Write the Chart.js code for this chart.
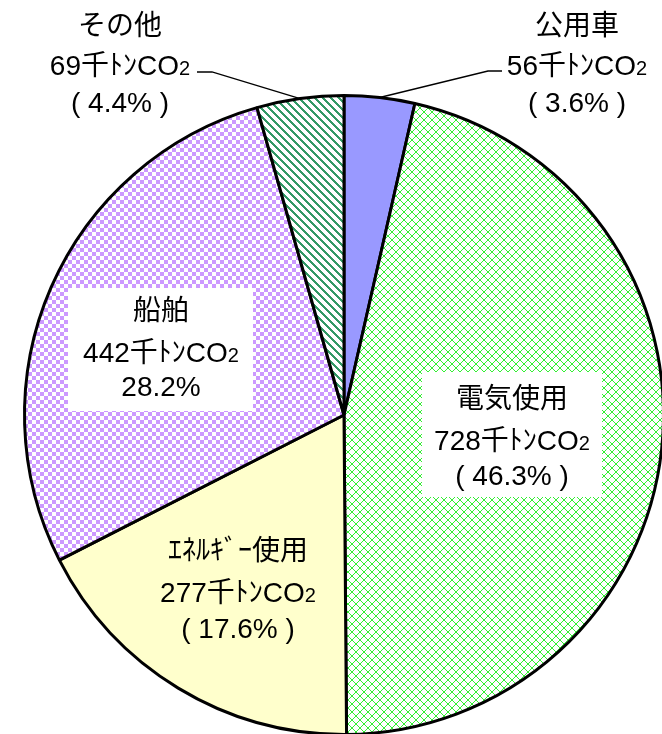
<!DOCTYPE html>
<html><head><meta charset="utf-8">
<script src="https://cdn.jsdelivr.net/npm/chart.js@4/dist/chart.umd.min.js"></script>
<style>
html,body{margin:0;padding:0;background:#fff;overflow:hidden;width:662px;height:734px;}
#wrap{position:absolute;left:0;top:0;width:700px;height:800px;}
</style></head><body>
<div id="wrap"><canvas id="c" width="700" height="800"></canvas></div>
<script>
// ---- data ----
const categories = ['公用車', '電気使用', 'ｴﾈﾙｷﾞｰ使用', '船舶', 'その他'];
const emissions = [56, 728, 277, 442, 69];          // 千トンCO2
const percentLabels = ['3.6%', '46.3%', '17.6%', '28.2%', '4.4%'];
const unitText = '千ﾄﾝCO';
const unitSub = '2';

// ---- label layout (text placement only) ----
const FONT = '"Liberation Sans", "Noto Sans CJK JP", sans-serif';
const FS = 28;
const labelLayout = [
  { cx: 577, base: [35, 75, 112], paren: true, leader: { elbow: 488, end: 502, y: 71 } },
  { cx: 512, base: [408, 450, 485], paren: true, box: [422, 372, 180, 125] },
  { cx: 238, base: [560, 602, 638], paren: true },
  { cx: 161, base: [320, 362, 396], paren: false, box: [68, 288, 185, 123] },
  { cx: 120, base: [35, 75, 112], paren: true, leader: { elbow: 212, end: 197, y: 72 } }
];

const ctxMain = document.getElementById('c').getContext('2d');
function makePattern(size, draw) {
  const c = document.createElement('canvas');
  c.width = size; c.height = size;
  const g = c.getContext('2d');
  g.fillStyle = '#ffffff'; g.fillRect(0, 0, size, size);
  draw(g, size);
  return ctxMain.createPattern(c, 'repeat');
}
const lattice = makePattern(8, (g, s) => {
  g.fillStyle = '#33ee33';
  for (let i = 0; i < s; i++) { g.fillRect(i, i, 1, 1); g.fillRect(s - 1 - i, i, 1, 1); }
});
const checker = makePattern(8, (g) => {
  g.fillStyle = '#cc99ff';
  g.fillRect(0, 0, 4, 4); g.fillRect(4, 4, 4, 4);
});
const stripes = makePattern(8, (g, s) => {
  g.fillStyle = '#339966';
  for (let y = 0; y < s; y++) for (let k = 0; k < 3; k++) g.fillRect((y + k) % s, y, 1, 1);
});
const fills = ['#9999ff', lattice, '#ffffcc', checker, stripes];

function drawLine(ctx, parts, cx, y) {
  let w = 0;
  parts.forEach(p => { ctx.font = p.size + 'px ' + FONT; p.w = ctx.measureText(p.t).width; w += p.w; });
  let x = cx - w / 2;
  parts.forEach(p => { ctx.font = p.size + 'px ' + FONT; ctx.fillText(p.t, x, y); x += p.w; });
}

const labelPlugin = {
  id: 'labels',
  afterDraw(chart) {
    const ctx = chart.ctx;
    const arcs = chart.getDatasetMeta(0).data;
    ctx.save();
    ctx.textBaseline = 'alphabetic';
    ctx.textAlign = 'left';
    categories.forEach((name, i) => {
      const L = labelLayout[i];
      if (L.box) {
        ctx.fillStyle = '#ffffff';
        ctx.fillRect(L.box[0], L.box[1], L.box[2], L.box[3]);
      }
      if (L.leader) {
        const a = arcs[i];
        const mid = (a.startAngle + a.endAngle) / 2;
        const px = a.x + Math.cos(mid) * a.outerRadius;
        const py = a.y + Math.sin(mid) * a.outerRadius;
        ctx.strokeStyle = '#000'; ctx.lineWidth = 1.3;
        ctx.beginPath();
        ctx.moveTo(px, py); ctx.lineTo(L.leader.elbow, L.leader.y); ctx.lineTo(L.leader.end, L.leader.y);
        ctx.stroke();
      }
      ctx.fillStyle = '#000';
      drawLine(ctx, [{ t: name, size: FS }], L.cx, L.base[0]);
      drawLine(ctx, [{ t: emissions[i] + unitText, size: FS }, { t: unitSub, size: Math.round(FS * 0.7) }], L.cx, L.base[1]);
      const pct = L.paren ? '( ' + percentLabels[i] + ' )' : percentLabels[i];
      drawLine(ctx, [{ t: pct, size: FS }], L.cx, L.base[2]);
    });
    ctx.restore();
  }
};

new Chart(ctxMain, {
  type: 'pie',
  data: {
    labels: categories,
    datasets: [{
      data: emissions,
      backgroundColor: fills,
      borderColor: '#000000',
      borderWidth: 3
    }]
  },
  options: {
    responsive: false,
    animation: false,
    events: [],
    layout: { padding: { left: 23, top: 94, right: 35, bottom: 64 } },
    plugins: { legend: { display: false }, tooltip: { enabled: false } }
  },
  plugins: [labelPlugin]
});
</script>
</body></html>
